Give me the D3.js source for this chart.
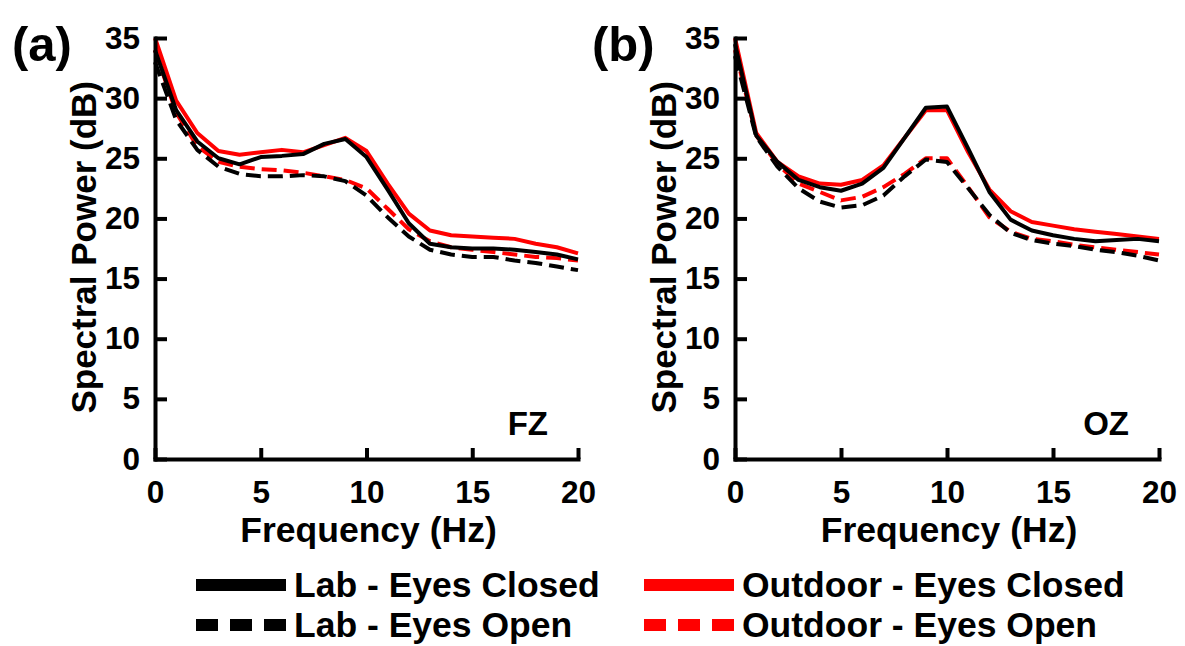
<!DOCTYPE html>
<html>
<head>
<meta charset="utf-8">
<script src="https://cdn.jsdelivr.net/npm/d3@7.9.0/dist/d3.min.js"></script>
<style>
  body { margin: 0; background: #fff; }
  svg { font-family: "Liberation Sans", Arial, sans-serif; font-weight: bold; }
</style>
</head>
<body>
<svg id="chart" width="1185" height="646"></svg>
<script>
// frequency bins (Hz)
const freqs = d3.range(0, 21);

// FZ channel
const fzLabClosed  = [34.0, 29.0, 26.4, 25.0, 24.5, 25.1, 25.2, 25.35, 26.2, 26.6, 25.1, 22.4, 19.6, 17.9, 17.6, 17.5, 17.5, 17.4, 17.2, 17.0, 16.6];
const fzLabOpen    = [33.0, 28.2, 25.7, 24.3, 23.7, 23.5, 23.5, 23.6, 23.5, 23.1, 21.9, 20.1, 18.5, 17.4, 17.0, 16.8, 16.8, 16.5, 16.3, 16.0, 15.7];
const fzOutClosed  = [35.0, 29.8, 27.1, 25.6, 25.3, 25.5, 25.7, 25.5, 26.1, 26.7, 25.6, 22.9, 20.4, 19.0, 18.6, 18.5, 18.4, 18.3, 17.9, 17.6, 17.1];
const fzOutOpen    = [34.0, 28.8, 26.0, 24.7, 24.3, 24.1, 24.0, 23.8, 23.5, 23.2, 22.5, 20.8, 19.1, 18.1, 17.6, 17.4, 17.2, 17.0, 16.8, 16.7, 16.5];

// OZ channel
const ozLabClosed  = [34.5, 26.9, 24.7, 23.2, 22.6, 22.3, 22.9, 24.2, 26.7, 29.2, 29.3, 25.8, 22.2, 19.9, 19.0, 18.6, 18.3, 18.1, 18.2, 18.3, 18.1];
const ozLabOpen    = [33.5, 26.8, 24.3, 22.5, 21.4, 20.9, 21.1, 21.9, 23.5, 24.9, 24.7, 22.5, 20.3, 18.8, 18.2, 17.9, 17.7, 17.4, 17.2, 16.9, 16.5];
const ozOutClosed  = [35.0, 27.1, 24.7, 23.5, 22.9, 22.8, 23.2, 24.4, 26.7, 29.0, 29.0, 25.5, 22.4, 20.6, 19.7, 19.4, 19.1, 18.9, 18.7, 18.5, 18.3];
const ozOutOpen    = [34.0, 26.9, 24.5, 22.9, 22.2, 21.5, 21.8, 22.6, 23.7, 25.0, 25.0, 22.6, 20.1, 18.9, 18.3, 18.1, 17.8, 17.6, 17.4, 17.2, 17.0];

const xTicks = [0, 5, 10, 15, 20];
const yTicks = [0, 5, 10, 15, 20, 25, 30, 35];

const seriesNames = ["Lab - Eyes Closed", "Lab - Eyes Open", "Outdoor - Eyes Closed", "Outdoor - Eyes Open"];
const seriesColors = ["#000", "#000", "#ff0000", "#ff0000"];
const seriesDashed = [false, true, false, true];

const panels = [
  { tag: "(a)", chan: "FZ", x0: 155, x1: 578, data: [fzLabClosed, fzLabOpen, fzOutClosed, fzOutOpen] },
  { tag: "(b)", chan: "OZ", x0: 735, x1: 1159, data: [ozLabClosed, ozLabOpen, ozOutClosed, ozOutOpen] }
];

const svg = d3.select("#chart");
const y = d3.scaleLinear().domain([0, 35]).range([459, 38]);
// draw order: dashed first, then solid, black on top
const drawOrder = [3, 1, 2, 0];

panels.forEach(p => {
  const x = d3.scaleLinear().domain([0, 20]).range([p.x0, p.x1]);
  const g = svg.append("g");

  const line = d3.line().x((d, i) => x(freqs[i])).y(d => y(d));
  drawOrder.forEach(k => {
    g.append("path")
      .attr("d", line(p.data[k]))
      .attr("fill", "none")
      .attr("stroke", seriesColors[k])
      .attr("stroke-width", 4)
      .attr("stroke-linejoin", "round")
      .attr("stroke-dasharray", seriesDashed[k] ? "15,7" : null);
  });

  const yAxis = g.append("g")
    .attr("transform", `translate(${p.x0},0)`)
    .call(d3.axisLeft(y).tickValues(yTicks).tickSize(-12).tickSizeOuter(0).tickPadding(15));
  const xAxis = g.append("g")
    .attr("transform", `translate(0,${y(0)})`)
    .call(d3.axisBottom(x).tickValues(xTicks).tickSize(-11).tickSizeOuter(0).tickPadding(22));

  [yAxis, xAxis].forEach(a => {
    a.select(".domain").attr("stroke-width", 4).attr("stroke-linecap", "square");
    a.selectAll(".tick line").attr("stroke-width", 4);
    a.selectAll(".tick text").attr("font-size", 31.5).attr("font-weight", "bold").attr("fill", "#000")
      .attr("font-family", "Liberation Sans, Arial, sans-serif");
  });

  svg.append("text")
    .attr("x", p.x0 - 143).attr("y", 61)
    .attr("font-size", 49)
    .text(p.tag);

  svg.append("text")
    .attr("transform", `translate(${p.x0 - 59},${y(17.6)}) rotate(-90)`)
    .attr("text-anchor", "middle")
    .attr("font-size", 35)
    .text("Spectral Power (dB)");

  svg.append("text")
    .attr("x", (p.x0 + p.x1) / 2 + 2).attr("y", 542)
    .attr("text-anchor", "middle")
    .attr("font-size", 35.5)
    .text("Frequency (Hz)");

  svg.append("text")
    .attr("x", x(20) - 30).attr("y", 435)
    .attr("text-anchor", "end")
    .attr("font-size", 33)
    .text(p.chan);
});

// legend
const legendPos = [[196, 585], [196, 625], [644, 585], [644, 625]];
seriesNames.forEach((name, k) => {
  const [lx, ly] = legendPos[k];
  svg.append("line")
    .attr("x1", lx).attr("x2", lx + 90).attr("y1", ly).attr("y2", ly)
    .attr("stroke", seriesColors[k])
    .attr("stroke-width", 12)
    .attr("stroke-dasharray", seriesDashed[k] ? "22,12" : null);
  svg.append("text")
    .attr("x", lx + 98).attr("y", ly + 12)
    .attr("font-size", 35.5)
    .text(name);
});
</script>
</body>
</html>
